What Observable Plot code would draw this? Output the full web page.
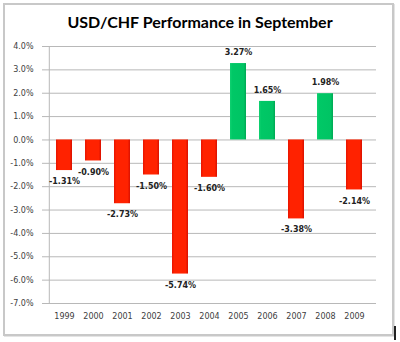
<!DOCTYPE html>
<html>
<head>
<meta charset="utf-8">
<script src="https://cdn.jsdelivr.net/npm/d3@7"></script>
<script src="https://cdn.jsdelivr.net/npm/@observablehq/plot@0.6"></script>
<style>
  html, body { margin: 0; padding: 0; background: #fff; }
  #wrap { position: relative; width: 400px; height: 342px; overflow: hidden; font-family: Lato, "Open Sans", sans-serif; }
  #frame { position: absolute; left: 3px; top: 3px; width: 387px; height: 329px; border: 2px solid #c8c8c8; box-shadow: 1px 1px 0 #e4e4e4; }
  #title { position: absolute; left: 0; width: 400px; top: 12px; text-align: center; font-size: 16px; font-weight: bold; color: #000; }
  #chart { position: absolute; left: 0; top: 30px; }
  #mark { position: absolute; left: 394px; top: 326px; width: 2px; height: 14px; background: #222; }
</style>
</head>
<body>
<div id="wrap">
  <div id="frame"></div>
  <div id="title">USD/CHF Performance in September</div>
  <div id="chart"></div>
  <div id="mark"></div>
</div>
<script>
const years = ["1999","2000","2001","2002","2003","2004","2005","2006","2007","2008","2009"];
const values = [-1.31, -0.90, -2.73, -1.50, -5.74, -1.60, 3.27, 1.65, -3.38, 1.98, -2.14];
const yTicks = [4, 3, 2, 1, 0, -1, -2, -3, -4, -5, -6, -7];

const data = years.map((y, i) => ({year: y, value: values[i]}));
const neg = data.filter(d => d.value < 0);
const pos = data.filter(d => d.value >= 0);
const fmt = v => v.toFixed(1) + "%";
const lab = v => v.toFixed(2) + "%";

const chart = Plot.plot({
  width: 400,
  height: 312,
  marginTop: 16,
  marginBottom: 39,
  marginLeft: 42,
  marginRight: 24,
  style: {fontFamily: "'DejaVu Sans', Verdana, sans-serif", fontSize: "8px", color: "#404040", background: "transparent"},
  x: {domain: years, padding: 0.44, label: null, tickSize: 0, tickPadding: 10},
  y: {domain: [-7, 4], ticks: yTicks, tickFormat: fmt, label: null, tickSize: 0, tickPadding: 9},
  marks: [
    Plot.gridY(yTicks, {stroke: "#b8b8b8", strokeOpacity: 1, strokeWidth: 1}),
    Plot.ruleX([years[0]], {y1: -7, y2: 4, stroke: "#b8b8b8", dx: -15.2}),
    Plot.barY(neg, {x: "year", y: "value", fill: "url(#gRed)"}),
    Plot.barY(pos, {x: "year", y: "value", fill: "url(#gGreen)"}),
    Plot.text(neg, {x: "year", y: "value", text: d => lab(d.value), dy: 11, fontWeight: "bold", fill: "#222", fontSize: 8}),
    Plot.text(pos, {x: "year", y: "value", text: d => lab(d.value), dy: -11, fontWeight: "bold", fill: "#222", fontSize: 8})
  ]
});

const ns = "http://www.w3.org/2000/svg";
const defs = document.createElementNS(ns, "defs");
function grad(id, stops) {
  const g = document.createElementNS(ns, "linearGradient");
  g.setAttribute("id", id);
  g.setAttribute("x1", "0"); g.setAttribute("x2", "1"); g.setAttribute("y1", "0"); g.setAttribute("y2", "0");
  stops.forEach(([o, c]) => {
    const s = document.createElementNS(ns, "stop");
    s.setAttribute("offset", o); s.setAttribute("stop-color", c);
    g.appendChild(s);
  });
  defs.appendChild(g);
}
grad("gRed", [["0", "#e81400"], ["0.15", "#ff2200"], ["0.85", "#ff2200"], ["1", "#d81000"]]);
grad("gGreen", [["0", "#10d070"], ["0.15", "#00c866"], ["0.85", "#00c464"], ["1", "#00a854"]]);
chart.insertBefore(defs, chart.firstChild);
document.getElementById("chart").appendChild(chart);
</script>
</body>
</html>
